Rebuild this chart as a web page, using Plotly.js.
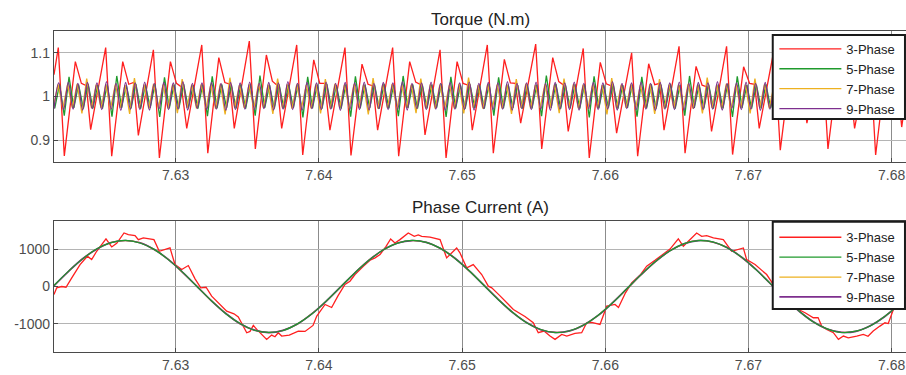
<!DOCTYPE html>
<html>
<head>
<meta charset="utf-8">
<script src="https://cdn.plot.ly/plotly-3.0.1.min.js"></script>
<style>
html, body { margin: 0; padding: 0; background: #ffffff; overflow: hidden; }
#chart { width: 906px; height: 375px; }
</style>
</head>
<body>
<div id="chart"></div>
<script>
// ---- Series metadata ----
const seriesNames = ['3-Phase', '5-Phase', '7-Phase', '9-Phase'];
const seriesColors = ['#ff1f1f', '#1f9a2c', '#edb120', '#7e2f8e'];

// ---- Axis ticks ----
const timeOriginS = 7.62;              // sample times below are ms after this instant
const xTickVals = [7.63, 7.64, 7.65, 7.66, 7.67, 7.68];
const xTickText = ['7.63', '7.64', '7.65', '7.66', '7.67', '7.68'];
const torqueTickVals = [0.9, 1, 1.1];
const torqueTickText = ['0.9', '1', '1.1'];
const currentTickVals = [-1000, 0, 1000];
const currentTickText = ['-1000', '0', '1000'];
const torqueReference = 1;

// ---- Torque, 3-phase (ms, N.m) ----
const torque3Ms = [
  1.50, 1.80, 2.22, 2.99, 3.41, 3.76, 4.06,
  5.11, 5.53, 6.30, 6.72, 7.07, 7.39,
  8.44, 8.86, 9.63, 10.05, 10.40, 10.77,
  11.82, 12.24, 13.01, 13.43, 13.78, 14.09,
  15.14, 15.56, 16.33, 16.75, 17.10, 17.40,
  18.45, 18.87, 19.64, 20.06, 20.41, 20.77,
  21.82, 22.24, 23.01, 23.43, 23.78, 24.10,
  25.15, 25.57, 26.34, 26.76, 27.11, 27.41,
  28.46, 28.88, 29.65, 30.07, 30.42, 30.71,
  31.76, 32.18, 32.95, 33.37, 33.72, 34.09,
  35.14, 35.56, 36.33, 36.75, 37.10, 37.41,
  38.46, 38.88, 39.65, 40.07, 40.42, 40.79,
  41.84, 42.26, 43.03, 43.45, 43.80, 44.10,
  45.15, 45.57, 46.34, 46.76, 47.11, 47.42,
  48.47, 48.89, 49.66, 50.08, 50.43, 50.75,
  51.80, 52.22, 52.99, 53.41, 53.76, 54.08,
  55.13, 55.55, 56.32, 56.74, 57.09, 57.41,
  58.46, 58.88, 59.65, 60.07, 60.42, 60.70, 61.00
];
const torque3 = [
  1.050, 1.112, 0.864, 1.080, 1.030, 1.025, 0.924,
  1.112, 0.863, 1.080, 1.028, 1.032, 0.911,
  1.107, 0.859, 1.080, 1.030, 1.022, 0.927,
  1.118, 0.870, 1.089, 1.032, 1.028, 0.927,
  1.127, 0.880, 1.095, 1.035, 1.025, 0.927,
  1.118, 0.866, 1.084, 1.030, 1.030, 0.923,
  1.112, 0.865, 1.074, 1.028, 1.024, 0.923,
  1.112, 0.863, 1.080, 1.033, 1.027, 0.912,
  1.107, 0.859, 1.080, 1.030, 1.026, 0.923,
  1.118, 0.870, 1.085, 1.031, 1.030, 0.939,
  1.120, 0.880, 1.089, 1.034, 1.026, 0.920,
  1.110, 0.859, 1.078, 1.029, 1.024, 0.916,
  1.100, 0.863, 1.075, 1.027, 1.030, 0.923,
  1.115, 0.870, 1.069, 1.026, 1.022, 0.920,
  1.115, 0.867, 1.068, 1.030, 1.028, 0.927,
  1.110, 0.877, 1.080, 1.030, 1.025, 0.939,
  1.110, 0.880, 1.082, 1.031, 1.027, 0.927,
  1.110, 0.866, 1.080, 1.030, 1.026, 0.930, 1.000
];

// ---- Torque, 5/7/9-phase: uniformly sampled troughs and peaks of the ripple ----
const rippleStepMs = 1 / 3;
const torque5StartMs = 1.55;
const torque7StartMs = 1.45;
const torque9StartMs = 1.50;
const torque5 = [
  0.973,1.028,0.956,1.045,0.974,1.027,0.972,1.029,0.973,1.026,0.972,1.028,0.954,1.047,0.974,1.026,0.973,1.029,0.972,1.027,
  0.974,1.028,0.953,1.044,0.973,1.027,0.972,1.029,0.973,1.026,0.972,1.027,0.955,1.046,0.973,1.028,0.974,1.027,0.973,1.028,
  0.972,1.029,0.956,1.048,0.974,1.026,0.972,1.028,0.973,1.027,0.974,1.028,0.952,1.045,0.973,1.027,0.972,1.029,0.973,1.026,
  0.972,1.028,0.954,1.046,0.973,1.027,0.974,1.027,0.972,1.029,0.973,1.026,0.955,1.047,0.974,1.028,0.972,1.027,0.973,1.027,
  0.974,1.029,0.953,1.045,0.973,1.026,0.972,1.028,0.974,1.027,0.972,1.029,0.956,1.044,0.973,1.027,0.974,1.026,0.972,1.028,
  0.973,1.027,0.955,1.048,0.974,1.029,0.972,1.026,0.973,1.028,0.972,1.028,0.952,1.046,0.973,1.027,0.974,1.029,0.972,1.026,
  0.974,1.027,0.954,1.045,0.973,1.028,0.972,1.027,0.974,1.029,0.972,1.026,0.956,1.047,0.974,1.027,0.973,1.028,0.972,1.027,
  0.973,1.029,0.953,1.046,0.974,1.026,0.972,1.027,0.973,1.028,0.974,1.027,0.955,1.044,0.973,1.029,0.972,1.026,0.974,1.027,
  0.972,1.028,0.956,1.047,0.974,1.027,0.973,1.029,0.972,1.026,0.974,1.027,0.953,1.045,0.973,1.028,0.972,1.027,0.973,1.029
];
const torque7 = [
  0.974,1.028,0.973,1.027,0.974,1.029,0.961,1.041,0.973,1.027,0.974,1.027,0.972,1.028,0.974,1.026,0.960,1.042,0.973,1.027,
  0.972,1.029,0.974,1.027,0.973,1.028,0.962,1.040,0.974,1.027,0.973,1.028,0.974,1.027,0.972,1.029,0.959,1.043,0.974,1.026,
  0.974,1.027,0.972,1.029,0.974,1.027,0.960,1.041,0.973,1.028,0.972,1.027,0.974,1.026,0.973,1.028,0.961,1.040,0.972,1.029,
  0.974,1.027,0.973,1.028,0.974,1.027,0.959,1.042,0.972,1.027,0.974,1.029,0.973,1.026,0.974,1.027,0.962,1.041,0.973,1.028,
  0.972,1.027,0.974,1.027,0.973,1.029,0.961,1.043,0.974,1.026,0.972,1.028,0.974,1.027,0.973,1.027,0.960,1.040,0.974,1.029,
  0.973,1.026,0.974,1.028,0.972,1.027,0.962,1.041,0.974,1.029,0.973,1.027,0.972,1.028,0.974,1.026,0.959,1.042,0.973,1.027,
  0.974,1.028,0.973,1.026,0.974,1.029,0.960,1.040,0.972,1.027,0.974,1.027,0.973,1.029,0.972,1.027,0.961,1.043,0.974,1.026,
  0.973,1.029,0.972,1.027,0.974,1.027,0.961,1.041,0.974,1.028,0.973,1.026,0.974,1.027,0.974,1.029,0.960,1.040,0.972,1.027,
  0.974,1.027,0.974,1.029,0.973,1.026,0.962,1.042,0.973,1.027,0.974,1.028,0.972,1.027,0.973,1.029,0.961,1.041,0.974,1.027
];
const torque9 = [
  0.972,1.031,0.970,1.033,0.971,1.030,0.969,1.032,0.972,1.031,0.970,1.034,0.971,1.030,0.968,1.032,0.971,1.031,0.970,1.033,
  0.969,1.030,0.972,1.032,0.970,1.031,0.971,1.034,0.969,1.030,0.972,1.031,0.970,1.033,0.971,1.030,0.968,1.032,0.970,1.031,
  0.971,1.033,0.970,1.030,0.972,1.032,0.969,1.031,0.971,1.034,0.970,1.030,0.969,1.032,0.972,1.031,0.970,1.033,0.971,1.030,
  0.968,1.032,0.971,1.031,0.970,1.033,0.969,1.030,0.972,1.032,0.970,1.031,0.971,1.034,0.969,1.030,0.972,1.031,0.970,1.033,
  0.971,1.030,0.968,1.032,0.971,1.031,0.970,1.033,0.969,1.030,0.972,1.032,0.970,1.031,0.971,1.034,0.969,1.030,0.972,1.031,
  0.970,1.033,0.971,1.030,0.968,1.032,0.971,1.031,0.970,1.033,0.969,1.030,0.972,1.032,0.970,1.031,0.971,1.034,0.969,1.030,
  0.972,1.031,0.970,1.033,0.971,1.030,0.968,1.032,0.971,1.031,0.970,1.033,0.969,1.030,0.972,1.032,0.970,1.031,0.971,1.034,
  0.969,1.030,0.972,1.031,0.970,1.033,0.971,1.030,0.968,1.032,0.971,1.031,0.970,1.033,0.969,1.030,0.972,1.032,0.970,1.031,
  0.971,1.034,0.969,1.030,0.972,1.031,0.970,1.033,0.971,1.030,0.968,1.032,0.971,1.031,0.970,1.033,0.969,1.030,0.972,1.032
];

// ---- Phase current, 3-phase (ms, A) ----
const current3Ms = [
  1.50, 1.69, 2.04, 2.34, 2.74, 3.32, 3.83, 4.13, 4.48, 5.13, 5.53, 5.88, 6.39, 6.69, 7.16, 7.39, 7.74, 8.48, 8.85, 9.60,
  9.95, 10.42, 10.88, 11.35, 11.75, 12.12, 12.51, 13.09, 13.56, 14.07, 14.37, 14.96, 15.19, 15.42, 15.66, 16.35, 16.70, 16.93, 17.16, 17.40,
  17.93, 18.56, 19.03, 19.59, 19.85, 20.43, 20.89, 21.33, 21.82, 22.17, 22.52, 23.10, 23.57, 23.92, 24.27, 24.69, 25.01, 25.31, 25.66, 26.24,
  26.66, 26.94, 27.18, 27.76, 28.46, 28.92, 29.62, 29.85, 30.32, 30.78, 31.37, 31.83, 32.07, 32.65, 33.58, 34.39, 34.97, 35.32, 35.72, 36.14,
  36.49, 36.96, 37.31, 37.88, 38.35, 38.70, 39.05, 39.63, 40.10, 40.68, 40.92, 41.41, 41.84, 42.42, 42.89, 43.47, 44.05, 44.52, 45.10, 45.45,
  45.80, 46.38, 46.73, 47.08, 47.55, 48.24, 48.83, 49.64, 49.87, 50.46, 51.27, 51.74, 52.20, 52.69, 53.25, 53.95, 54.53, 54.86, 55.11, 55.46,
  55.93, 56.28, 56.63, 56.97, 57.56, 58.02, 58.35, 58.71, 59.18, 59.53, 59.76, 60.11, 60.46, 61.00
];
const current3 = [
  -213, -35, 0, -20, 232, 587, 809, 720, 942, 1272, 1058, 1156, 1431, 1387, 1360, 1253, 1298, 1253, 942, 1031,
  587, 453, 560, 205, -35, -20, -258, -480, -658, -729, -813, -1235, -1200, -1040, -1147, -1413, -1297, -1342, -1235, -1324,
  -1300, -1191, -1200, -1040, -791, -480, -560, -250, 53, 142, 320, 542, 702, 765, 853, 1075, 1272, 1165, 1253, 1431,
  1342, 1380, 1342, 1320, 1253, 765, 1031, 900, 498, 587, 320, 9, -35, -250, -613, -800, -969, -1235, -1190, -1324,
  -1413, -1280, -1324, -1250, -1235, -969, -960, -1013, -525, -480, -560, -168, 98, 300, 542, 700, 853, 1000, 1272, 1075,
  1209, 1431, 1342, 1360, 1300, 1253, 942, 1031, 720, 587, 320, 53, -150, -400, -569, -700, -835, -830, -1058, -1147,
  -1235, -1413, -1324, -1370, -1324, -1280, -1330, -1191, -1058, -969, -990, -613, -258, 50
];

// ---- Phase current, 5/7/9-phase: sampled every millisecond ----
const currentStartMs = 1.5;
const currentStepMs = 1.0;
const current5 = [
  28, 405, 738, 1010, 1172, 1233, 1163, 992, 712, 378, -6, -380, -726, -990, -1170, -1228, -1175, -998, -736, -390, -15,
  362, 700, 984, 1158, 1232, 1178, 1019, 750, 422, 40, -340, -680, -968, -1150, -1232, -1183, -1030, -768, -442, -60,
  318, 668, 948, 1148, 1225, 1195, 1038, 792, 458, 92, -296, -644, -940, -1133, -1229, -1194, -1055, -803, -484, -106
];
const current7 = [
  20, 398, 745, 1002, 1178, 1226, 1170, 985, 720, 370, 0, -386, -719, -998, -1165, -1233, -1169, -1004, -729, -398, -20,
  358, 708, 976, 1164, 1227, 1183, 1012, 758, 415, 47, -333, -688, -961, -1157, -1226, -1189, -1024, -775, -435, -68,
  312, 661, 955, 1141, 1231, 1188, 1045, 785, 465, 84, -290, -651, -933, -1139, -1223, -1200, -1048, -810, -477, -113
];
const current9 = [
  24, 400, 742, 1004, 1176, 1230, 1168, 987, 718, 372, -2, -383, -722, -995, -1167, -1231, -1171, -1002, -731, -396, -18,
  360, 705, 979, 1162, 1229, 1181, 1015, 756, 418, 44, -336, -685, -964, -1155, -1228, -1187, -1026, -772, -438, -65,
  315, 664, 952, 1144, 1229, 1190, 1042, 788, 462, 87, -292, -648, -936, -1137, -1225, -1198, -1050, -807, -480, -110
];

// ---- Helpers ----
const toSeconds = ms => timeOriginS + ms / 1000;
const sampleTimes = (startMs, stepMs, count) =>
  Array.from({ length: count }, (_, i) => toSeconds(startMs + i * stepMs));

const FONT = 'Arial, "Liberation Sans", Helvetica, sans-serif';
const LINE_W = 1.3;

function trace(x, y, idx, panel, opts) {
  opts = opts || {};
  return {
    type: 'scatter', mode: 'lines',
    x: x, y: y,
    name: seriesNames[idx],
    legendrank: idx + 1,
    line: { color: seriesColors[idx], width: opts.width || LINE_W, shape: opts.shape || 'linear', smoothing: 1 },
    xaxis: panel === 1 ? 'x' : 'x2',
    yaxis: panel === 1 ? 'y' : 'y2',
    legend: panel === 1 ? 'legend' : 'legend2',
    hoverinfo: 'skip'
  };
}

const traces = [
  // Torque panel (9-phase on top)
  trace(torque3Ms.map(toSeconds), torque3, 0, 1),
  trace(sampleTimes(torque5StartMs, rippleStepMs, torque5.length), torque5, 1, 1),
  trace(sampleTimes(torque7StartMs, rippleStepMs, torque7.length), torque7, 2, 1),
  trace(sampleTimes(torque9StartMs, rippleStepMs, torque9.length), torque9, 3, 1, { shape: 'spline' }),
  // Current panel: 5-phase drawn last over a slightly wider 9-phase line
  trace(current3Ms.map(toSeconds), current3, 0, 2),
  trace(sampleTimes(currentStartMs, currentStepMs, current7.length), current7, 2, 2, { shape: 'spline' }),
  trace(sampleTimes(currentStartMs, currentStepMs, current9.length), current9, 3, 2, { shape: 'spline', width: 1.7 }),
  trace(sampleTimes(currentStartMs, currentStepMs, current5.length), current5, 1, 2, { shape: 'spline', width: 1.2 })
];

const xRange = [toSeconds(1.50), toSeconds(61.0)];

function xAxis(anchor) {
  return {
    anchor: anchor, domain: [0, 1], range: xRange,
    tickmode: 'array', tickvals: xTickVals, ticktext: xTickText,
    showgrid: true, gridcolor: '#8c8c8c', gridwidth: 1,
    showline: true, linecolor: '#4a4a4a', linewidth: 1.2, mirror: true,
    ticks: 'inside', ticklen: 4, tickcolor: '#4a4a4a',
    tickfont: { family: FONT, size: 14, color: '#4d4d4d' },
    zeroline: false, fixedrange: true
  };
}
function yAxis(anchor, domain, range, vals, text) {
  return {
    anchor: anchor, domain: domain, range: range,
    tickmode: 'array', tickvals: vals, ticktext: text,
    showgrid: true, gridcolor: '#b4b4b4', gridwidth: 1,
    showline: true, linecolor: '#4a4a4a', linewidth: 1.2, mirror: false,
    ticks: 'inside', ticklen: 4, tickcolor: '#4a4a4a',
    tickfont: { family: FONT, size: 14, color: '#4d4d4d' },
    zeroline: false, fixedrange: true
  };
}

// Legend entries sit on a transparent legend; the framed white box behind them is a paper shape.
function legendEntries(y) {
  return {
    x: 0.8455, xanchor: 'left', y: y, yanchor: 'top',
    bgcolor: 'rgba(0,0,0,0)', borderwidth: 0,
    font: { family: FONT, size: 13, color: '#222222' },
    itemwidth: 62, tracegroupgap: 0
  };
}
function legendFrame(y0, y1) {
  return {
    type: 'rect', xref: 'paper', yref: 'paper',
    x0: 0.8436, x1: 0.9988, y0: y0, y1: y1,
    fillcolor: '#ffffff', line: { color: '#1a1a1a', width: 2 }, layer: 'above'
  };
}

const layout = {
  width: 906, height: 375,
  margin: { l: 54, r: 0, t: 31, b: 23, pad: 0 },
  paper_bgcolor: '#ffffff', plot_bgcolor: '#ffffff',
  showlegend: true,
  xaxis: xAxis('y'),
  yaxis: yAxis('x', [0.592, 1], [0.85, 1.15], torqueTickVals, torqueTickText),
  xaxis2: xAxis('y2'),
  yaxis2: yAxis('x2', [0, 0.408], [-1750, 1750], currentTickVals, currentTickText),
  legend: legendEntries(0.991),
  legend2: legendEntries(0.404),
  shapes: [
    {
      type: 'line', xref: 'x domain', yref: 'y', x0: 0, x1: 1,
      y0: torqueReference, y1: torqueReference,
      line: { color: '#a98ac4', width: 1 }, layer: 'below'
    },
    legendFrame(0.7259, 0.9875),
    legendFrame(0.134, 0.4059)
  ],
  annotations: [
    { text: 'Torque (N.m)', xref: 'paper', yref: 'paper', x: 0.5, y: 1.037,
      xanchor: 'center', yanchor: 'middle', showarrow: false,
      font: { family: FONT, size: 17, color: '#222222' } },
    { text: 'Phase Current (A)', xref: 'paper', yref: 'paper', x: 0.5, y: 0.450,
      xanchor: 'center', yanchor: 'middle', showarrow: false,
      font: { family: FONT, size: 17, color: '#222222' } }
  ]
};

Plotly.newPlot('chart', traces, layout, { staticPlot: true, displayModeBar: false });
</script>
</body>
</html>
